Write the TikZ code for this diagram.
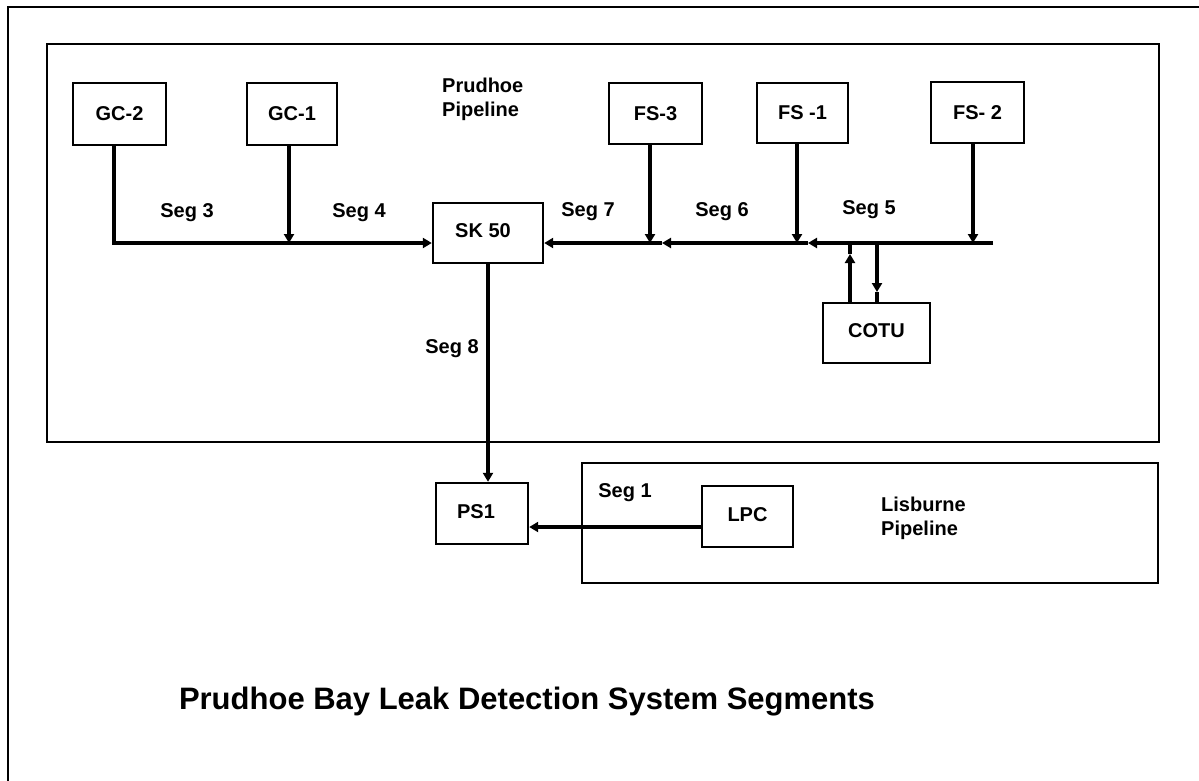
\documentclass[tikz,border=0pt]{standalone}
\usepackage{fontspec}
\setmainfont{Liberation Sans}
\usetikzlibrary{arrows.meta}
\begin{document}
\begin{tikzpicture}[x=1pt,y=-1pt,
  box/.style={draw, line width=2.4pt, rectangle, inner sep=0pt, font=\bfseries\fontsize{20}{24}\selectfont},
  region/.style={draw, line width=2.4pt, rectangle, inner sep=0pt},
  pipe/.style={line width=4.5pt},
  frameline/.style={line width=2.4pt},
  tip/.style={-{Triangle[length=9pt,width=10pt]}},
  lbl/.style={font=\bfseries\fontsize{20}{24}\selectfont, inner sep=0pt},
]
\useasboundingbox (0,0) rectangle (1199,780);
\fill[white] (0,0) rectangle (1199,780);
% outer frame (cut at right and bottom)
\coordinate (fb) at (8,785);
\coordinate (fc) at (8,7);
\coordinate (fr) at (1205,7);
\draw[frameline] (fb) -- (fc) -- (fr);
% regions
\node[region, minimum width=1112pt, minimum height=398pt] (prud) at (603,243) {};
\node[region, minimum width=576pt, minimum height=120pt] (lis) at (870,523) {};
% stations
\node[box, minimum width=93pt, minimum height=62pt] (gc2) at (119.5,114) {GC-2};
\node[box, minimum width=90pt, minimum height=62pt] (gc1) at (292,114) {GC-1};
\node[box, minimum width=93pt, minimum height=61pt] (fs3) at (655.5,113.5) {FS-3};
\node[box, minimum width=91pt, minimum height=60pt] (fs1) at (802.5,113) {FS -1};
\node[box, minimum width=93pt, minimum height=61pt] (fs2) at (977.5,112.5) {FS- 2};
\node[box, minimum width=110pt, minimum height=60pt] (sk) at (488,233) {\raisebox{4pt}{SK 50\hspace{10pt}}};
\node[box, minimum width=107pt, minimum height=60pt] (cotu) at (876.5,333) {\raisebox{4pt}{COTU}};
\node[box, minimum width=92pt, minimum height=61pt] (ps1) at (482,513.5) {\raisebox{3pt}{PS1\hspace{12pt}}};
\node[box, minimum width=91pt, minimum height=61pt] (lpc) at (747.5,516.5) {\raisebox{3pt}{LPC}};
% region labels
\node[lbl, anchor=west, align=left] (prudlbl) at (442,99) {Prudhoe\\Pipeline};
\node[lbl, anchor=west, align=left] (lislbl) at (881,518.5) {Lisburne\\Pipeline};
% segment labels
\node[lbl] (seg3) at (187,213) {Seg 3};
\node[lbl] (seg4) at (359,213) {Seg 4};
\node[lbl] (seg7) at (588,212) {Seg 7};
\node[lbl] (seg6) at (722,212) {Seg 6};
\node[lbl] (seg5) at (869,210) {Seg 5};
\node[lbl] (seg8) at (452,349) {Seg 8};
\node[lbl] (seg1) at (625,493) {Seg 1};
% title
\node[font=\bfseries\fontsize{31}{36}\selectfont, inner sep=0pt] (title) at (527,702) {Prudhoe Bay Leak Detection System Segments};
% junction coordinates
\coordinate (j3) at (114,243);
\coordinate (j4) at (289,243);
\coordinate (jf3) at (650,243);
\coordinate (jf1) at (797,243);
\coordinate (jf2) at (973,243);
\coordinate (e5) at (993,243);
\coordinate (a6) at (808,243);
\coordinate (a7) at (662,243);
\coordinate (cl) at (850,243);
\coordinate (cla) at (850,254);
\coordinate (cr) at (877,243);
\coordinate (cra) at (877,292);
\coordinate (s1) at (702,527);
% left main line
\draw[pipe,tip] (gc2.south -| j3) -- (j3) -- (sk.west |- j3);
\draw[pipe,tip] (gc1.south -| j4) -- (j4);
% right main line
\draw[pipe,tip] (e5) -- (a6);
\draw[pipe,tip] (a6) -- (a7);
\draw[pipe,tip] (a7) -- (sk.east |- j3);
\draw[pipe,tip] (fs3.south -| jf3) -- (jf3);
\draw[pipe,tip] (fs1.south -| jf1) -- (jf1);
\draw[pipe,tip] (fs2.south -| jf2) -- (jf2);
% COTU
\draw[pipe,tip] (cotu.north -| cl) -- (cla);
\draw[pipe] (cla) -- (cl);
\draw[pipe,tip] (cr) -- (cra);
\draw[pipe] (cra) -- (cotu.north -| cr);
% Seg 8
\draw[pipe,line width=3.8pt,tip] (sk.south) -- (ps1.north -| sk.south);
% Seg 1
\draw[pipe,tip] (lpc.west |- s1) -- (ps1.east |- s1);
\end{tikzpicture}
\end{document}
